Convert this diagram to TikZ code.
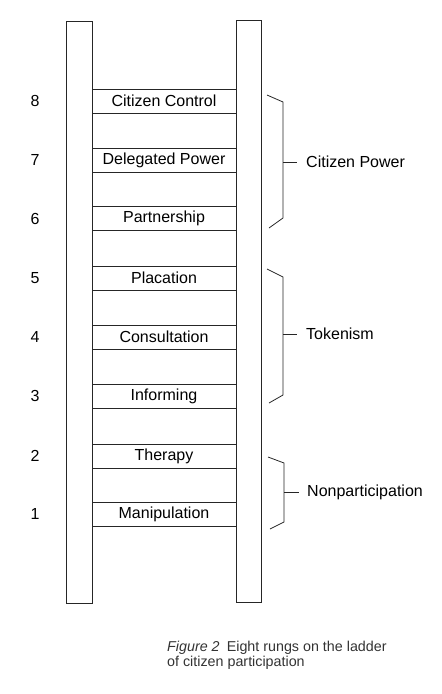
\documentclass[tikz,border=0pt]{standalone}
\usepackage{fontspec}
\setmainfont{Liberation Sans}
\begin{document}
\begin{tikzpicture}[x=1pt,y=-1pt,
  line/.style={draw=black!85,line width=0.8pt},
  rail/.style={line,rectangle,inner sep=0pt,minimum width=#1,minimum height=582},
  rung/.style={line,rectangle,inner sep=0pt,minimum width=144,minimum height=24,font=\fontsize{16}{19}\selectfont},
  num/.style={font=\fontsize{16}{19}\selectfont},
  grp/.style={anchor=west,inner sep=0pt,font=\fontsize{16}{19}\selectfont},
  captext/.style={anchor=west,inner sep=0pt,text=black!80,font=\fontsize{14.3}{16}\selectfont}]
\useasboundingbox (0,0) rectangle (442,694);
% rails
\node[rail=26] (L) at (79,312) {};
\node[rail=25] (R) at (248.5,311) {};
% rungs
\node[rung] (r8) at (164,101) {Citizen Control};
\node[rung] (r7) at (164,160) {Delegated Power};
\node[rung] (r6) at (164,218.7) {Partnership};
\node[rung] (r5) at (164,278) {Placation};
\node[rung] (r4) at (164,337) {Consultation};
\node[rung] (r3) at (164,396) {Informing};
\node[rung] (r2) at (164,456) {Therapy};
\node[rung] (r1) at (164,514.3) {Manipulation};
% numbers
\foreach \i in {1,...,8} {\node[num] (n\i) at (35,0 |- r\i) {\i};}
% braces
\coordinate (cpA) at (267,95); \coordinate (cpB) at (283,102); \coordinate (cpM) at (283,162);
\coordinate (cpC) at (283,218); \coordinate (cpD) at (269,228); \coordinate (cpT) at (297,162);
\draw[line] (cpA) -- (cpB) -- (cpC) -- (cpD);
\draw[line] (cpM) -- (cpT);
\node[grp] (cp) at (306,162) {Citizen Power};
\coordinate (tkA) at (267,269); \coordinate (tkB) at (283,277); \coordinate (tkM) at (283,334);
\coordinate (tkC) at (283,395); \coordinate (tkD) at (269,403); \coordinate (tkT) at (297,334);
\draw[line] (tkA) -- (tkB) -- (tkC) -- (tkD);
\draw[line] (tkM) -- (tkT);
\node[grp] (tk) at (306,334) {Tokenism};
\coordinate (npA) at (268,457); \coordinate (npB) at (284,463); \coordinate (npM) at (284,492);
\coordinate (npC) at (284,522); \coordinate (npD) at (270,529); \coordinate (npT) at (299,492);
\draw[line] (npA) -- (npB) -- (npC) -- (npD);
\draw[line] (npM) -- (npT);
\node[grp] (np) at (307,492) {Nonparticipation};
% caption
\node[captext] (c1) at (167,648) {\textit{Figure 2}\enspace Eight rungs on the ladder};
\node[captext] (c2) at (167,663) {of citizen participation};
\end{tikzpicture}
\end{document}
